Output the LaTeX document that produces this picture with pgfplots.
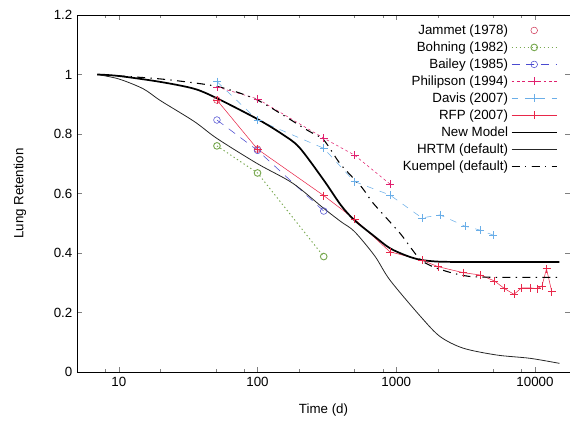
\documentclass[border=0pt]{standalone}
\usepackage{fontspec}
\setmainfont{Liberation Sans}
\usepackage{pgfplots}
\pgfplotsset{compat=1.18}
\usetikzlibrary{calc}
\definecolor{jammet}{HTML}{D03A5A}
\definecolor{bohning}{HTML}{78A850}
\definecolor{bailey}{HTML}{4A4AD0}
\definecolor{philipson}{HTML}{E0206E}
\definecolor{davis}{HTML}{6AAEE8}
\definecolor{rfp}{HTML}{E8284A}

\begin{document}
\begin{tikzpicture}
\begin{axis}[
    name=ax,
    scale only axis,
    width=369.75pt,
    height=267.75pt,
    xmode=log,
    xmin=5, xmax=17870,
    ymin=0, ymax=1.2,
    xtick={10,100,1000,10000},
    xticklabels={10,100,1000,10000},
    minor xtick={8,20,50,80,200,500,800,2000,5000,8000},
    ytick={0,0.2,0.4,0.6,0.8,1,1.2},
    yticklabels={0,0.2,0.4,0.6,0.8,1,1.2},
    /pgf/number format/assume math mode=true,
    tick label style={font=\fontsize{10}{12}\selectfont},
    major tick length=4pt,
    minor tick length=2.5pt,
    xlabel={Time (d)},
    ylabel={Lung Retention},
    every axis x label/.style={at={(axis description cs:0.5,-0.1064)}, anchor=center},
    every axis y label/.style={at={(axis description cs:-0.1156,0.5)}, rotate=90, anchor=center},
    label style={font=\fontsize{10}{12}\selectfont},
    legend style={draw=none, fill=none, at={(1,1)}, anchor=north east,
        xshift=-6pt, yshift=-3pt, font=\fontsize{10}{12.75}\selectfont,
        row sep=0pt},
    legend cell align=right,
    legend plot pos=right,
    legend image code/.code={\draw[mark repeat=2,mark phase=2,#1]
        plot coordinates {(0pt,0pt) (17pt,0pt) (34pt,0pt)};},
    every axis plot/.append style={every mark/.append style={solid}},
]
\addplot[only marks, color=jammet, mark=o, mark size=2.5pt] coordinates {
    (51,0.914) (100,0.749)
};
\addlegendentry{Jammet (1978)}
\addplot[color=bohning, line width=0.7pt, dash pattern=on 1pt off 2pt, mark=o, mark size=2.5pt] coordinates {
    (51,0.760) (100,0.669) (300,0.388)
};
\addlegendentry{Bohning (1982)}
\addplot[color=bailey, dash pattern=on 6pt off 5pt, mark=o, mark size=2.5pt] coordinates {
    (51,0.847) (100,0.745) (300,0.541)
};
\addlegendentry{Bailey (1985)}
\addplot[color=philipson, dash pattern=on 2pt off 2pt, mark=+, mark size=3pt] coordinates {
    (51,0.958) (100,0.918) (300,0.786) (500,0.729) (900,0.632)
};
\addlegendentry{Philipson (1994)}
\addplot[color=davis, dash pattern=on 5pt off 5pt, mark=+, mark size=3pt] coordinates {
    (51,0.976) (100,0.847) (300,0.752) (500,0.640) (900,0.595)
    (1530,0.518) (2070,0.528) (3130,0.490) (4020,0.477) (5000,0.460)
};
\addlegendentry{Davis (2007)}
\addplot[color=rfp, mark=+, mark size=3pt, mark options={solid, draw=rfp, fill=rfp}] coordinates {
    (51,0.914) (100,0.749) (300,0.593) (500,0.514) (900,0.404)
    (1530,0.376) (2000,0.354) (3030,0.334) (4040,0.326) (5100,0.306)
    (6000,0.281) (7050,0.261) (8000,0.283) (9200,0.283) (10300,0.280)
    (11200,0.288) (12100,0.347) (13200,0.270)
};
\addlegendentry{RFP (2007)}
\addplot[color=black, line width=1.3pt, smooth, tension=0.5] coordinates {
    (7,1.000) (10,0.995) (20,0.975) (35,0.952) (51,0.920) (100,0.850)
    (150,0.800) (200,0.755) (300,0.645) (400,0.560) (500,0.510)
    (700,0.455) (900,0.416) (1200,0.390) (1500,0.377) (2000,0.371)
    (3000,0.370) (15000,0.370)
};
\addlegendentry{New Model}
\addplot[color=black!85, line width=0.6pt, smooth, tension=0.5] coordinates {
    (7,1.000) (10,0.985) (15,0.952) (20,0.912) (35,0.842) (51,0.785)
    (100,0.700) (180,0.634) (300,0.550) (400,0.505) (500,0.472)
    (700,0.390) (900,0.309) (1500,0.186) (2070,0.119) (3040,0.080)
    (5300,0.057) (9200,0.046) (15000,0.029)
};
\addlegendentry{HRTM (default)}
\addplot[color=black, line width=0.8pt, dash pattern=on 6pt off 4pt on 1pt off 4pt, smooth, tension=0.4] coordinates {
    (7,1.000) (20,0.985) (51,0.960) (100,0.914) (228,0.813) (300,0.780)
    (394,0.700) (566,0.620) (680,0.568) (1070,0.465) (1490,0.378)
    (2070,0.345) (3600,0.320) (15000,0.318)
};
\addlegendentry{Kuempel (default)}
\end{axis}
\pgfresetboundingbox
\path[use as bounding box] ($(ax.south west)+(-57.75pt,-38.25pt)$) rectangle ($(ax.north east)+(0pt,11.25pt)$);
\end{tikzpicture}
\end{document}
